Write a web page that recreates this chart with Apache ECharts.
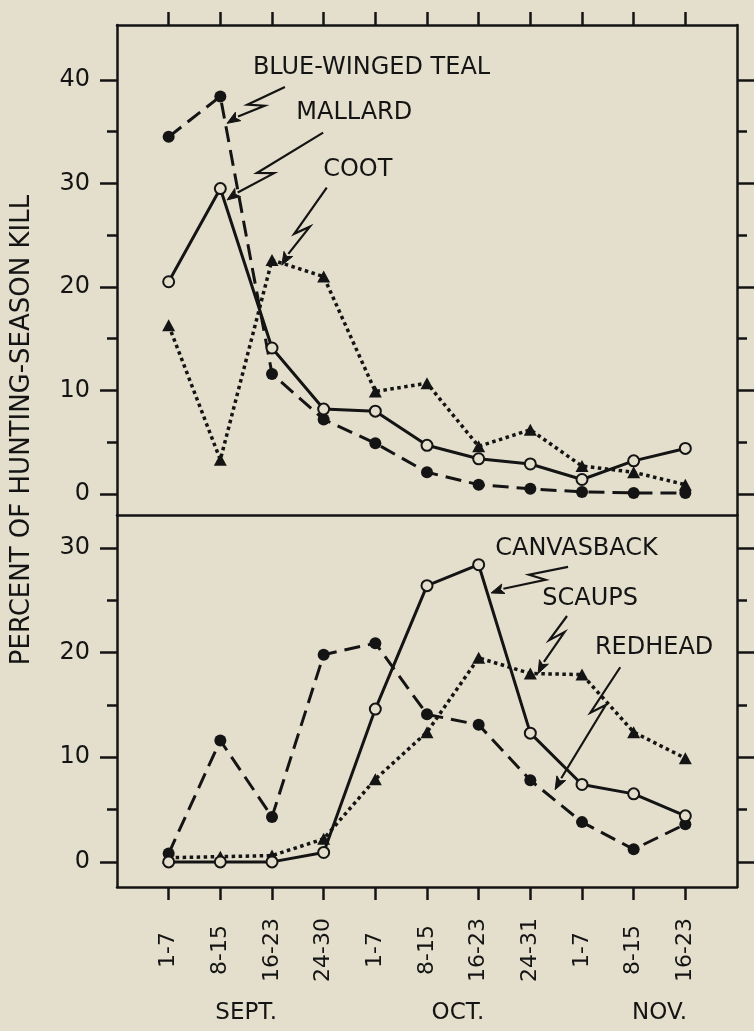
<!DOCTYPE html>
<html>
<head>
<meta charset="utf-8">
<script src="https://cdn.jsdelivr.net/npm/echarts@6/dist/echarts.min.js"></script>
<style>
  html, body { margin: 0; padding: 0; background: #e4dfcc; }
  #chart { width: 754px; height: 1031px; }
</style>
</head>
<body>
<div id="chart"></div>
<script>
// Week periods of the hunting season (Sept. 1 to Nov. 23)
const weeks = ['1-7', '8-15', '16-23', '24-30', '1-7', '8-15', '16-23', '24-31', '1-7', '8-15', '16-23'];
const months = ['SEPT.', 'OCT.', 'NOV.'];
const monthPos = [1.5, 5.6, 9.5];

// Percent of hunting-season kill, upper panel
const blueWingedTeal = [34.5, 38.4, 11.6, 7.2, 4.9, 2.1, 0.9, 0.5, 0.2, 0.1, 0.1];
const mallard        = [20.5, 29.5, 14.1, 8.2, 8.0, 4.7, 3.4, 2.9, 1.4, 3.2, 4.4];
const coot           = [16.3, 3.3, 22.6, 21.0, 9.9, 10.7, 4.6, 6.2, 2.7, 2.1, 0.9];

// Percent of hunting-season kill, lower panel
const canvasback = [0, 0, 0, 0.9, 14.6, 26.4, 28.4, 12.3, 7.4, 6.5, 4.4];
const redhead    = [0.8, 11.6, 4.3, 19.8, 20.9, 14.1, 13.1, 7.8, 3.8, 1.2, 3.6];
const scaups     = [0.4, 0.5, 0.6, 2.2, 7.9, 12.4, 19.5, 18.0, 17.9, 12.4, 9.9];

// Tick values
const upperMajor = [0, 10, 20, 30, 40];
const upperMinor = [5, 15, 25, 35];
const lowerMajor = [0, 10, 20, 30];
const lowerMinor = [5, 15, 25];
const weekIdx = weeks.map((_, i) => i);

// Species name labels and their leader arrows (x in week index, y in percent)
const upperNames = ['BLUE-WINGED TEAL', 'MALLARD', 'COOT'];
const upperNamePos = [[1.63, 41.2], [2.47, 36.8], [2.99, 31.3]];
const upperArrows = [[2.25, 39.3, 1.13, 35.8, 0.5], [2.99, 34.9, 1.13, 28.4, 0.6], [3.06, 29.6, 2.19, 22.1, 0.55]];
const lowerNames = ['CANVASBACK', 'SCAUPS', 'REDHEAD'];
const lowerNamePos = [[6.32, 29.9], [7.23, 25.1], [8.25, 20.5]];
const lowerArrows = [[7.73, 28.2, 6.24, 25.7, 0.4], [7.71, 23.5, 7.15, 18.0, 0.35], [8.74, 18.6, 7.48, 6.9, 0.34]];

const INK = '#141414';
const BG = '#e4dfcc';
const FONT = '"DejaVu Sans", sans-serif';

const pairs = arr => arr.map((v, i) => [i, v]);

function lineAxisX(grid, position, extra) {
  return Object.assign({
    type: 'value', gridIndex: grid, position: position, min: -1, max: 11,
    axisLine: { show: true, onZero: false, lineStyle: { color: INK, width: 2.5 } },
    axisTick: { show: false },
    axisLabel: { show: false },
    splitLine: { show: false }
  }, extra || {});
}

function yAxisPair(grid, min, max, major, minor) {
  const base = {
    type: 'value', gridIndex: grid, min: min, max: max,
    splitLine: { show: false }
  };
  const mk = (pos, vals, len, showLine, showLabel) => Object.assign({}, base, {
    position: pos,
    axisLine: { show: showLine, onZero: false, lineStyle: { color: INK, width: 2.5 } },
    axisTick: { show: true, inside: false, length: len, customValues: vals, lineStyle: { color: INK, width: 2.5 } },
    axisLabel: showLabel
      ? { show: true, customValues: vals, margin: 27, color: INK, fontSize: 24, fontFamily: FONT }
      : { show: false }
  });
  return [
    mk('left', major, 17, true, true),
    mk('left', minor, 10, false, false),
    mk('right', major, 17, true, false),
    mk('right', minor, 10, false, false)
  ];
}

function lineSeries(name, data, xi, yi, dash, width, symbol, open) {
  return {
    type: 'line', name: name, data: pairs(data),
    xAxisIndex: xi, yAxisIndex: yi,
    symbol: symbol, symbolSize: symbol === 'triangle' ? [13, 12] : (open ? 11 : 12),
    showSymbol: true,
    lineStyle: { color: INK, width: width, type: dash, cap: 'butt' },
    itemStyle: open ? { color: BG, borderColor: INK, borderWidth: 2 } : { color: INK, borderWidth: 0 },
    z: 3
  };
}

// Leader arrow with a lightning-style break and a filled head
function arrowSeries(arrows, xi, yi) {
  return {
    type: 'custom', xAxisIndex: xi, yAxisIndex: yi, clip: false, z: 5,
    data: arrows,
    renderItem: function (params, api) {
      const p0 = api.coord([api.value(0), api.value(1)]);
      const p1 = api.coord([api.value(2), api.value(3)]);
      const t = api.value(4);
      const dx = p1[0] - p0[0], dy = p1[1] - p0[1];
      const L = Math.sqrt(dx * dx + dy * dy);
      const ux = dx / L, uy = dy / L;
      const nx = -uy, ny = ux;
      const h = 7, w = 5, head = 13, hw = 5;
      const a = [p0[0] + ux * (L * t + h) + nx * w, p0[1] + uy * (L * t + h) + ny * w];
      const b = [p0[0] + ux * (L * t - h) - nx * w, p0[1] + uy * (L * t - h) - ny * w];
      const base = [p1[0] - ux * head, p1[1] - uy * head];
      return {
        type: 'group',
        children: [
          {
            type: 'polyline',
            shape: { points: [p0, a, b, base] },
            style: { stroke: INK, lineWidth: 2.2, fill: null }
          },
          {
            type: 'polygon',
            shape: { points: [p1, [base[0] + nx * hw, base[1] + ny * hw], [base[0] + ux * 3, base[1] + uy * 3], [base[0] - nx * hw, base[1] - ny * hw]] },
            style: { fill: INK, stroke: INK, lineWidth: 1 }
          }
        ]
      };
    }
  };
}

function nameSeries(names, pos, xi, yi) {
  return {
    type: 'custom', xAxisIndex: xi, yAxisIndex: yi, clip: false, z: 5,
    data: pos,
    renderItem: function (params, api) {
      const p = api.coord([api.value(0), api.value(1)]);
      return {
        type: 'text', x: p[0], y: p[1],
        style: {
          text: names[params.dataIndex], fill: INK, font: '24px ' + FONT,
          align: 'left', verticalAlign: 'middle',
          textAlign: 'left', textVerticalAlign: 'middle'
        }
      };
    }
  };
}

const chart = echarts.init(document.getElementById('chart'), null, { renderer: 'canvas' });

chart.setOption({
  animation: false,
  backgroundColor: BG,
  textStyle: { fontFamily: FONT },
  grid: [
    { left: 117, top: 25, width: 620, height: 490 },
    { left: 117, top: 515, width: 620, height: 372 }
  ],
  xAxis: [
    lineAxisX(0, 'top', {
      axisTick: { show: true, inside: false, length: 13, customValues: weekIdx, lineStyle: { color: INK, width: 2.5 } }
    }),
    lineAxisX(0, 'bottom'),
    lineAxisX(1, 'bottom', {
      axisTick: { show: true, inside: false, length: 13, customValues: weekIdx, lineStyle: { color: INK, width: 2.5 } },
      axisLabel: {
        show: true, customValues: weekIdx, rotate: 90, align: 'center', verticalAlign: 'middle',
        margin: 63, color: INK, fontSize: 22, fontFamily: FONT,
        formatter: v => weeks[Math.round(v)]
      }
    }),
    lineAxisX(1, 'bottom', {
      axisLine: { show: false },
      axisLabel: {
        show: true, customValues: monthPos, margin: 126, color: INK, fontSize: 23, fontFamily: FONT,
        verticalAlign: 'middle',
        formatter: v => months[monthPos.indexOf(v)]
      }
    })
  ],
  yAxis: [
    ...yAxisPair(0, -2.03, 45.3, upperMajor, upperMinor),
    ...yAxisPair(1, -2.4, 33.15, lowerMajor, lowerMinor)
  ],
  graphic: [
    {
      type: 'text', x: 22, y: 430, rotation: Math.PI / 2,
      style: {
        text: 'PERCENT OF HUNTING-SEASON KILL', fill: INK, font: '26px ' + FONT,
        align: 'center', verticalAlign: 'middle', textAlign: 'center', textVerticalAlign: 'middle'
      }
    }
  ],
  series: [
    lineSeries('Blue-winged teal', blueWingedTeal, 0, 0, [16, 8], 3, 'circle', false),
    lineSeries('Mallard', mallard, 0, 0, 'solid', 3, 'circle', true),
    lineSeries('Coot', coot, 0, 0, [3.5, 3.5], 3.5, 'triangle', false),
    lineSeries('Redhead', redhead, 2, 4, [16, 8], 3, 'circle', false),
    lineSeries('Scaups', scaups, 2, 4, [3.5, 3.5], 3.5, 'triangle', false),
    lineSeries('Canvasback', canvasback, 2, 4, 'solid', 3, 'circle', true),
    arrowSeries(upperArrows, 0, 0),
    nameSeries(upperNames, upperNamePos, 0, 0),
    arrowSeries(lowerArrows, 2, 4),
    nameSeries(lowerNames, lowerNamePos, 2, 4)
  ]
});
</script>
</body>
</html>
